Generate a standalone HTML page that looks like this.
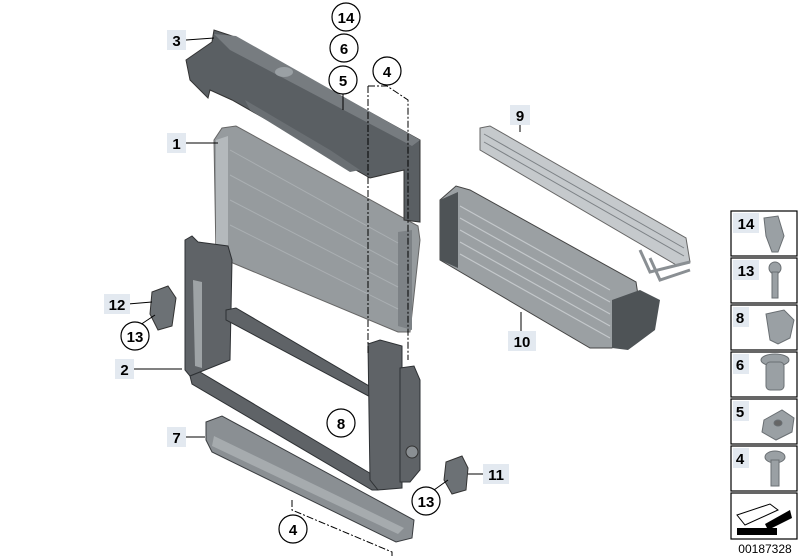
<!DOCTYPE html>
<html><head><style>
html,body{margin:0;padding:0;background:#fff;}
svg{display:block;font-family:"Liberation Sans",Arial,sans-serif;}
.sq{fill:#e3e9f0;}
.lb{font-weight:bold;font-size:15px;fill:#000;}
.c{fill:#fff;stroke:#000;stroke-width:1.2;}
.ld{stroke:#000;stroke-width:1;fill:none;}
.dash{stroke:#000;stroke-width:1;fill:none;stroke-dasharray:7,2,2,2;}
</style></head><body>
<svg width="800" height="560" viewBox="0 0 800 560" xmlns="http://www.w3.org/2000/svg">
<rect width="800" height="560" fill="#fff"/>

<!-- radiator 1 -->
<polygon points="222,128 236,126 418,226 420,240 410,332 398,332 216,256 214,140" fill="#969b9e" stroke="#666" stroke-width="1"/>
<polygon points="216,140 228,136 228,262 216,256" fill="#b4b9bc"/>
<polygon points="398,232 412,230 412,330 398,326" fill="#7d8286"/>
<g stroke="#aaafb2" stroke-width="1">
<line x1="230" y1="150" x2="398" y2="243"/><line x1="230" y1="175" x2="398" y2="265"/><line x1="230" y1="200" x2="398" y2="287"/><line x1="230" y1="225" x2="398" y2="309"/>
</g>

<!-- top carrier 3 -->
<polygon points="186,60 212,42 214,30 232,36 420,140 420,222 404,220 404,170 370,178 232,100 210,90 208,98 190,80" fill="#5a5f63" stroke="#333" stroke-width="1"/>
<polygon points="214,34 236,36 420,140 412,146 230,50" fill="#777c80"/>
<ellipse cx="284" cy="72" rx="9" ry="5" fill="#9aa0a4"/>
<polygon points="245,100 330,150 360,170 350,172 250,110" fill="#6a6f73"/>

<!-- frame 2 -->
<g fill="#5f6367" stroke="#2e3134" stroke-width="1">
<polygon points="185,240 192,236 198,242 228,246 232,260 230,360 200,372 190,376 185,370"/>
<polygon points="190,376 200,372 378,478 378,490 372,490 192,384"/>
<polygon points="226,310 236,308 376,390 376,400 226,320"/>
<polygon points="368,344 380,340 402,346 402,488 378,490 370,480"/>
<polygon points="400,368 414,366 420,380 420,470 410,482 400,482"/>
</g>
<polygon points="193,280 202,282 202,368 195,366" fill="#9ea3a6"/>
<circle cx="412" cy="452" r="6" fill="#8a8f93" stroke="#333"/>

<!-- lower part 7 -->
<polygon points="206,422 222,416 414,520 412,538 396,542 212,452 206,440" fill="#8a8f93" stroke="#3a3d40" stroke-width="1"/>
<polygon points="214,436 404,528 398,534 212,446" fill="#a6abae"/>

<!-- brackets 12 & 11 -->
<polygon points="152,292 168,286 176,298 172,326 158,330 150,314" fill="#6c7175" stroke="#333"/>
<polygon points="446,462 462,456 468,468 466,490 452,494 444,480" fill="#6c7175" stroke="#333"/>

<!-- oil cooler 9 -->
<polygon points="480,128 490,126 686,238 690,262 678,266 480,150" fill="#c5c9cc" stroke="#666" stroke-width="1"/>
<g stroke="#7d8286"><line x1="484" y1="134" x2="684" y2="248"/><line x1="484" y1="142" x2="684" y2="256"/></g>
<path d="M640,250 L650,272 L690,262 M650,258 L660,280 L690,270" stroke="#8a8f93" stroke-width="3" fill="none"/>

<!-- intercooler 10 -->
<polygon points="440,200 456,186 470,190 636,282 640,308 628,320 612,348 590,348 440,260" fill="#9ba0a3" stroke="#444" stroke-width="1"/>
<polygon points="440,200 458,192 458,268 440,260" fill="#4e5356"/>
<polygon points="612,300 640,290 660,300 655,330 628,350 612,348" fill="#4e5356"/>
<g stroke="#c4c8cb" stroke-width="1.2">
<line x1="460" y1="206" x2="610" y2="290"/><line x1="460" y1="218" x2="610" y2="302"/><line x1="460" y1="230" x2="610" y2="314"/><line x1="460" y1="242" x2="610" y2="326"/><line x1="460" y1="254" x2="610" y2="338"/>
</g>

<!-- dashed lines 4 -->
<polyline class="dash" points="368,86 368,355"/>
<polyline class="dash" points="368,86 387,86 408,100 408,360"/>
<polyline class="dash" points="292,500 292,510 392,552 392,556"/>

<!-- leaders -->
<line class="ld" x1="186" y1="40" x2="214" y2="38"/>
<line class="ld" x1="186" y1="143" x2="218" y2="143"/>
<line class="ld" x1="343" y1="92" x2="343" y2="110"/>
<line class="ld" x1="520" y1="124" x2="520" y2="132"/>
<line class="ld" x1="521" y1="332" x2="521" y2="312"/>
<line class="ld" x1="134" y1="369" x2="182" y2="369"/>
<line class="ld" x1="186" y1="437" x2="205" y2="437"/>
<line class="ld" x1="128" y1="304" x2="152" y2="302"/>
<line class="ld" x1="140" y1="325" x2="155" y2="315"/>
<line class="ld" x1="468" y1="474" x2="485" y2="474"/>
<line class="ld" x1="434" y1="490" x2="448" y2="480"/>

<!-- square labels -->
<g>
<rect class="sq" x="167" y="30" width="19" height="20"/><text class="lb" x="176.5" y="46" text-anchor="middle">3</text>
<rect class="sq" x="167" y="133" width="19" height="20"/><text class="lb" x="176.5" y="149" text-anchor="middle">1</text>
<rect class="sq" x="510" y="105" width="20" height="20"/><text class="lb" x="520" y="121" text-anchor="middle">9</text>
<rect class="sq" x="508" y="331" width="28" height="20"/><text class="lb" x="522" y="347" text-anchor="middle">10</text>
<rect class="sq" x="104" y="294" width="26" height="20"/><text class="lb" x="117" y="310" text-anchor="middle">12</text>
<rect class="sq" x="115" y="359" width="19" height="20"/><text class="lb" x="124.5" y="375" text-anchor="middle">2</text>
<rect class="sq" x="167" y="427" width="19" height="20"/><text class="lb" x="176.5" y="443" text-anchor="middle">7</text>
<rect class="sq" x="483" y="464" width="26" height="20"/><text class="lb" x="496" y="480" text-anchor="middle">11</text>
</g>

<!-- circle labels -->
<circle class="c" cx="346" cy="17" r="14"/><text class="lb" x="346" y="23" text-anchor="middle">14</text>
<circle class="c" cx="344" cy="48" r="14"/><text class="lb" x="344" y="54" text-anchor="middle">6</text>
<circle class="c" cx="343" cy="80" r="14"/><text class="lb" x="343" y="86" text-anchor="middle">5</text>
<circle class="c" cx="387" cy="71" r="14"/><text class="lb" x="387" y="77" text-anchor="middle">4</text>
<circle class="c" cx="135" cy="336" r="14"/><text class="lb" x="135" y="342" text-anchor="middle">13</text>
<circle class="c" cx="341" cy="423" r="14"/><text class="lb" x="341" y="429" text-anchor="middle">8</text>
<circle class="c" cx="426" cy="501" r="14"/><text class="lb" x="426" y="507" text-anchor="middle">13</text>
<circle class="c" cx="293" cy="529" r="14"/><text class="lb" x="293" y="535" text-anchor="middle">4</text>

<!-- right column -->
<g stroke="#000" stroke-width="1.2" fill="#fff">
<rect x="731" y="211" width="66" height="45"/>
<rect x="731" y="258" width="66" height="45"/>
<rect x="731" y="305" width="66" height="45"/>
<rect x="731" y="352" width="66" height="45"/>
<rect x="731" y="399" width="66" height="45"/>
<rect x="731" y="446" width="66" height="45"/>
<rect x="731" y="493" width="66" height="46"/>
</g>
<g>
<rect class="sq" x="733" y="213" width="26" height="20"/><text class="lb" x="746" y="229" text-anchor="middle">14</text>
<rect class="sq" x="733" y="260" width="26" height="20"/><text class="lb" x="746" y="276" text-anchor="middle">13</text>
<rect class="sq" x="733" y="307" width="16" height="20"/><text class="lb" x="740" y="323" text-anchor="middle">8</text>
<rect class="sq" x="733" y="354" width="16" height="20"/><text class="lb" x="740" y="370" text-anchor="middle">6</text>
<rect class="sq" x="733" y="401" width="16" height="20"/><text class="lb" x="740" y="417" text-anchor="middle">5</text>
<rect class="sq" x="733" y="448" width="16" height="20"/><text class="lb" x="740" y="464" text-anchor="middle">4</text>
</g>
<g fill="#9aa0a4" stroke="#6a6f73">
<path d="M764,218 L778,216 L784,236 L778,252 L772,252 L766,236 Z"/>
<circle cx="775" cy="268" r="6"/><rect x="772" y="272" width="6" height="26"/>
<path d="M766,314 L784,310 L794,320 L790,338 L778,344 L770,340 Z"/>
<ellipse cx="775" cy="360" rx="14" ry="6"/><rect x="766" y="362" width="18" height="28" rx="4"/>
<path d="M764,420 L782,410 L794,418 L792,432 L776,440 L762,432 Z"/><ellipse cx="778" cy="423" rx="4" ry="3" fill="#666"/>
<ellipse cx="775" cy="457" rx="10" ry="6"/><rect x="771" y="460" width="8" height="26"/>
</g>
<path d="M737,515 L770,504 L778,510 L745,525 Z" fill="#fff" stroke="#000"/>
<path d="M765,524 L790,510 L792,518 L768,530 Z" fill="#000"/>
<rect x="737" y="528" width="40" height="7" fill="#000"/>
<text x="765" y="553" text-anchor="middle" font-size="12" fill="#000">00187328</text>
</svg>
</body></html>
